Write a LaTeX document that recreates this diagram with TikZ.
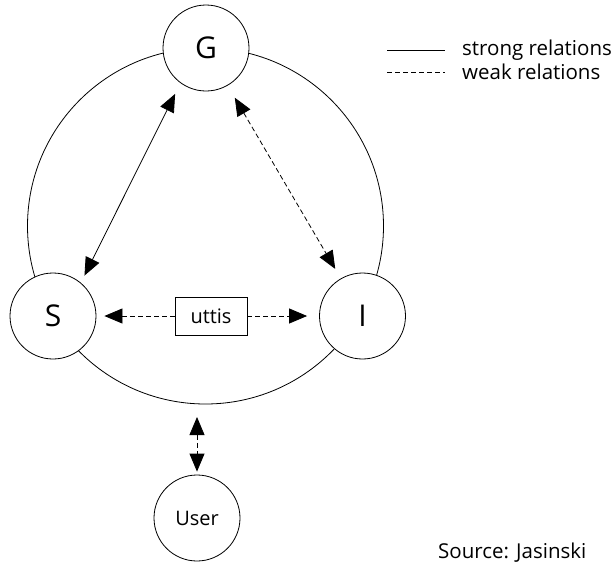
\documentclass[tikz,border=0pt]{standalone}
\usepackage{fontspec}
\setmainfont{Open Sans}
\usetikzlibrary{arrows.meta}

\tikzset{
  ent/.style={circle, draw, line width=0.8pt, fill=white, minimum size=86pt, inner sep=0pt, font=\fontsize{30}{32}\selectfont},
  usr/.style={circle, draw, line width=0.8pt, fill=white, minimum size=86pt, inner sep=0pt, font=\fontsize{20}{22}\selectfont},
  tag/.style={draw, line width=0.8pt, fill=white, minimum width=72pt, minimum height=38pt, inner sep=0pt, font=\fontsize{20}{22}\selectfont},
  lbl/.style={anchor=west, inner sep=0pt, font=\fontsize{20.5}{22}\selectfont},
  tip/.style={-{Triangle[length=18pt,width=15pt]}},
  twotip/.style={{Triangle[length=18pt,width=15pt]}-{Triangle[length=18pt,width=15pt]}},
  strongrel/.style={line width=0.8pt},
  weakrel/.style={line width=0.8pt, dash pattern=on 5pt off 3pt},
}

\begin{document}
\begin{tikzpicture}[x=1pt, y=-1pt]
  \useasboundingbox (0,0) rectangle (614,563);

  % surrounding ring
  \draw[line width=0.8pt] (205.5,226) circle[radius=178];
  \coordinate (ringbottom) at (197,404);

  % actors
  \node[ent] (G) at (206,48) {G};
  \node[ent] (S) at (53,316) {S};
  \node[ent] (I) at (362.5,316) {I};
  \node[usr] (U) at (197,518) {User};
  \node[tag] (T) at (211,316) {uttis};

  % relations
  \draw[strongrel, twotip, shorten <=8pt, shorten >=12pt] (S.50) -- (G.234);
  \draw[weakrel, twotip, shorten <=14pt, shorten >=11pt] (G.300.6) -- (I.120.9);
  \draw[weakrel, tip, shorten >=8pt] (T) -- (S);
  \draw[weakrel, tip, shorten >=12pt] (T) -- (I);
  \draw[weakrel, twotip, shorten <=13pt, shorten >=3pt] (ringbottom) -- (U.north);

  % legend
  \coordinate (ls1) at (387,50);
  \coordinate (le1) at (445,50);
  \coordinate (ls2) at (387,72);
  \coordinate (le2) at (445,72);
  \draw[strongrel] (ls1) -- (le1);
  \draw[weakrel] (ls2) -- (le2);
  \node[lbl] (L1) at (462,50) {strong relations};
  \node[lbl] (L2) at (462,72) {weak relations};

  \node[lbl] (src) at (438,553) {Source: Jasinski};
\end{tikzpicture}
\end{document}
